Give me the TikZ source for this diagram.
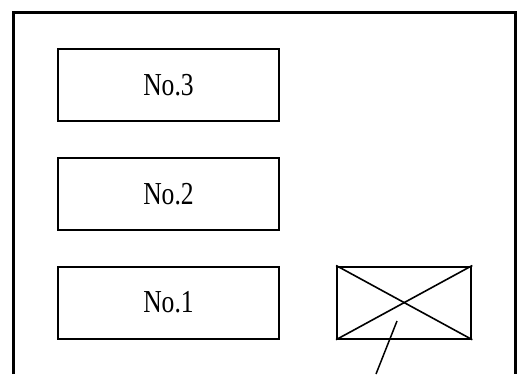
\documentclass[tikz,border=0pt]{standalone}
\usepackage{fontspec}
\newfontfamily\labelfont{Liberation Serif}[FakeStretch=0.8]
\usetikzlibrary{positioning}

\tikzset{
    unit/.style={draw, line width=1.1pt, minimum width=110.5pt, minimum height=36pt,
        inner sep=0pt, font=\labelfont\fontsize{16}{16}\selectfont},
    crossbox/.style={draw, line width=1.1pt, minimum width=67pt, minimum height=36pt, inner sep=0pt}
}

\begin{document}
\begin{tikzpicture}[x=0.5pt, y=-0.5pt, node distance=17.3pt]
\useasboundingbox (0,0) rectangle (518,374);

% outer frame, open at the bottom
\draw[line width=1.1pt] (13.5,374) -- (13.5,12.5) -- (515.5,12.5) -- (515.5,374);

% stacked units
\node[unit] (no3) at (168.5,85) {No.3};
\node[unit, below=of no3] (no2) {No.2};
\node[unit, below=of no2] (no1) {No.1};

% crossed box beside No.1
\node[crossbox, right=28pt of no1] (cross) {};
\draw[line width=0.8pt] (cross.north west) -- (cross.south east);
\draw[line width=0.8pt] (cross.south west) -- (cross.north east);

% leader line
\coordinate (leadstart) at (397,321);
\coordinate (leadend) at (376,374);
\draw[line width=0.75pt] (leadstart) -- (leadend);

\end{tikzpicture}
\end{document}
